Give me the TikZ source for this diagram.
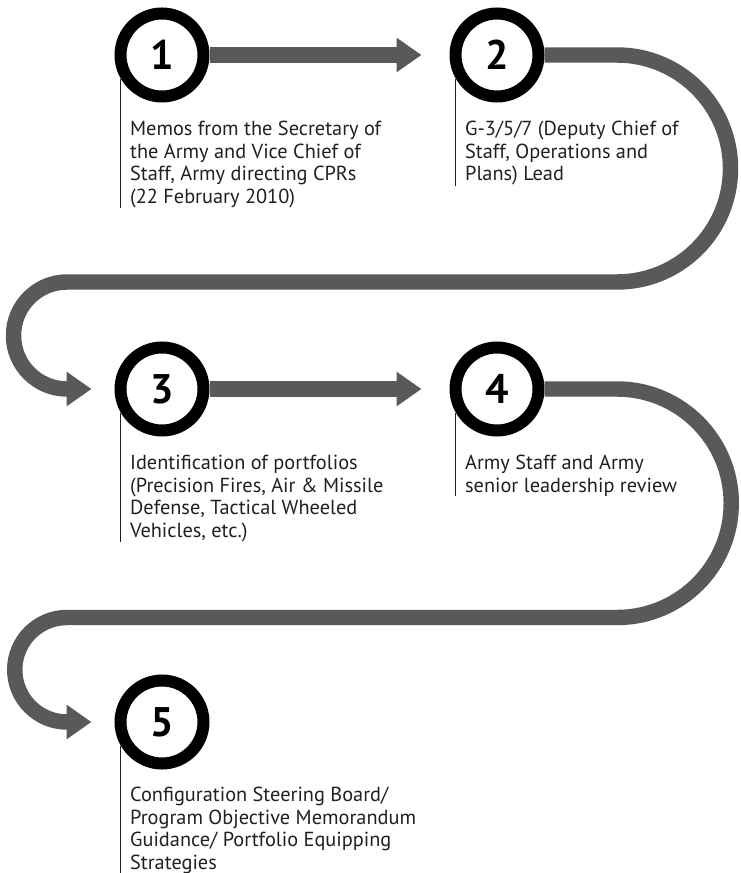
\documentclass[tikz,border=0pt]{standalone}
\usepackage{fontspec}
\setmainfont{PT Sans}
\usetikzlibrary{calc}
\usetikzlibrary{arrows.meta}
\definecolor{flowgray}{HTML}{58595B}
\definecolor{inkblack}{HTML}{231F20}

\begin{document}
\begin{tikzpicture}[x=0.75pt,y=-0.75pt,
  stepnum/.style={circle,draw=black,line width=9pt,fill=white,minimum size=62.25pt,inner sep=0pt,font=\fontsize{31}{31}\selectfont\bfseries},
  steptext/.style={anchor=north west,inner sep=0pt,align=left,text=inkblack,font=\fontsize{15.25}{17}\selectfont},
  flow/.style={draw=flowgray,line width=11.6pt,-{Triangle[length=18.75pt,width=24.75pt]}},
  leader/.style={draw=inkblack,line width=0.7pt}]

\useasboundingbox (0,0) rectangle (740,873);

%\draw[help lines] (0,0) grid (740,873);
\node[stepnum] (c1) at (162,55) {1};
\node[stepnum] (c2) at (497,55) {2};
\node[stepnum] (c3) at (162,389) {3};
\node[stepnum] (c4) at (497,389) {4};
\node[stepnum] (c5) at (162,722) {5};

\node[steptext] (t1) at ($(c1.210)+(9,42)$) {Memos from the Secretary of\\the Army and Vice Chief of\\Staff, Army directing CPRs\\(22 February 2010)};
\node[steptext] (t2) at ($(c2.210)+(9,42)$) {G-3/5/7 (Deputy Chief of\\Staff, Operations and\\Plans) Lead};
\node[steptext] (t3) at ($(c3.210)+(9,42)$) {Identification of portfolios\\(Precision Fires, Air \& Missile\\Defense, Tactical Wheeled\\Vehicles, etc.)};
\node[steptext] (t4) at ($(c4.210)+(9,42)$) {Army Staff and Army\\senior leadership review};
\node[steptext] (t5) at ($(c5.210)+(9,41)$) {Configuration Steering Board/\\Program Objective Memorandum\\Guidance/ Portfolio Equipping\\Strategies};

\draw[leader] (c1.210)--(c1.210 |- t1.south);
\draw[leader] (c2.210)--(c2.210 |- t2.south);
\draw[leader] (c3.210)--(c3.210 |- t3.south);
\draw[leader] (c4.210)--(c4.210 |- t4.south);
\draw[leader] (c5.210)--(c5.210 |- t5.south);

\draw[flow] (c1.east)--($(c2.west)+(-28,0)$);
\draw[flow] (c3.east)--($(c4.west)+(-28,0)$);
% the two snake loops
\draw[flow] (c2.east)--(617,55) arc[start angle=-90,end angle=90,radius=113.5]
  --(67,282) arc[start angle=-90,end angle=-270,radius=53.5]--($(c3.west)+(-23,0)$);
\draw[flow] (c4.east)--(617,389) arc[start angle=-90,end angle=90,radius=114.25]
  --(67,617.5) arc[start angle=-90,end angle=-270,radius=52.25]--($(c5.west)+(-23,0)$);

\end{tikzpicture}
\end{document}
